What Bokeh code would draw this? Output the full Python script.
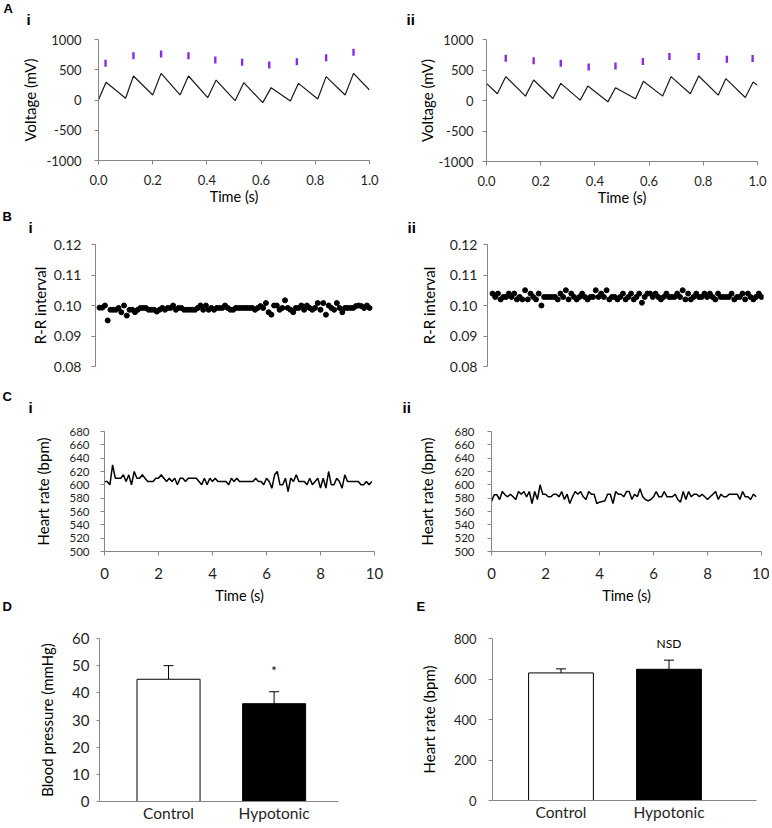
import numpy as np
from bokeh.plotting import figure
from bokeh.layouts import column, row
from bokeh.models import (Label, Title, Whisker, TeeHead, ColumnDataSource, FixedTicker,
                          NumeralTickFormatter, Range1d)
from bokeh.core.properties import value
from bokeh.embed import file_html
from bokeh.resources import INLINE

# ---------------- data ----------------
# A: voltage traces (vertices of the trace) and detected peaks
a1_t = [0.0, 0.028, 0.100, 0.129, 0.200, 0.231, 0.301, 0.332, 0.403, 0.434, 0.504,
        0.536, 0.606, 0.637, 0.708, 0.738, 0.809, 0.840, 0.910, 0.941, 1.0]
a1_v = [5, 292, 28, 397, 83, 440, 83, 397, 39, 330, -11, 286, -44, 204, -17, 275,
        17, 386, 83, 440, 165]
a1_peak_t = [0.026, 0.129, 0.231, 0.332, 0.431, 0.530, 0.630, 0.732, 0.840, 0.941]
a1_peak_v = [606, 733, 760, 733, 661, 622, 578, 634, 700, 788]

a2_t = [0.0, 0.040, 0.071, 0.144, 0.174, 0.245, 0.274, 0.346, 0.374, 0.448, 0.476,
        0.550, 0.579, 0.650, 0.681, 0.752, 0.783, 0.855, 0.883, 0.955, 0.984, 1.0]
a2_v = [281, 110, 391, 72, 336, 33, 281, 6, 237, -22, 209, 28, 314, 72, 391, 110,
        402, 88, 358, 50, 303, 248]
a2_peak_t = [0.071, 0.174, 0.274, 0.377, 0.476, 0.577, 0.675, 0.783, 0.887, 0.982]
a2_peak_v = [694, 650, 612, 551, 567, 639, 722, 722, 678, 689]

a_xticks = [0.0, 0.2, 0.4, 0.6, 0.8, 1.0]
a_yticks = [-1000, -500, 0, 500, 1000]

# B: R-R intervals
b1_rr = [0.0993, 0.0993, 0.1000, 0.0951, 0.0986, 0.0986, 0.0986, 0.0992, 0.0978, 0.1000,
         0.0967, 0.0986, 0.0986, 0.0978, 0.0986, 0.0992, 0.0992, 0.0992, 0.0986, 0.0986,
         0.0986, 0.0980, 0.0986, 0.0992, 0.0986, 0.0992, 0.0992, 0.1000, 0.0986, 0.0992,
         0.0992, 0.0986, 0.0986, 0.0986, 0.0986, 0.0986, 0.0992, 0.1000, 0.0986, 0.1000,
         0.0986, 0.0992, 0.0986, 0.0992, 0.0992, 0.0992, 0.1000, 0.0992, 0.0986, 0.0986,
         0.0992, 0.0992, 0.0992, 0.0992, 0.0992, 0.0992, 0.0992, 0.0986, 0.0992, 0.0998,
         0.0992, 0.1008, 0.0978, 0.0970, 0.1000, 0.1000, 0.0986, 0.0992, 0.1017, 0.0992,
         0.0986, 0.0978, 0.0992, 0.0992, 0.1000, 0.0986, 0.1000, 0.0992, 0.0986, 0.0992,
         0.1008, 0.0986, 0.1008, 0.0970, 0.1000, 0.0992, 0.0986, 0.1008, 0.0992, 0.0978,
         0.0992, 0.0992, 0.0992, 0.0992, 0.0998, 0.1000, 0.0998, 0.0992, 0.1000, 0.0992]
b2_rr = [0.1039, 0.1028, 0.1039, 0.1020, 0.1028, 0.1028, 0.1039, 0.1028, 0.1039, 0.1020,
         0.1028, 0.1020, 0.1050, 0.1020, 0.1039, 0.1028, 0.1020, 0.1039, 0.1000, 0.1028,
         0.1028, 0.1028, 0.1028, 0.1028, 0.1020, 0.1039, 0.1028, 0.1050, 0.1020, 0.1039,
         0.1028, 0.1020, 0.1028, 0.1039, 0.1028, 0.1020, 0.1028, 0.1028, 0.1050, 0.1028,
         0.1039, 0.1028, 0.1050, 0.1020, 0.1028, 0.1028, 0.1020, 0.1028, 0.1039, 0.1020,
         0.1028, 0.1039, 0.1020, 0.1028, 0.1039, 0.1009, 0.1028, 0.1039, 0.1039, 0.1028,
         0.1039, 0.1028, 0.1020, 0.1028, 0.1039, 0.1028, 0.1028, 0.1028, 0.1039, 0.1028,
         0.1050, 0.1020, 0.1039, 0.1020, 0.1028, 0.1039, 0.1028, 0.1028, 0.1039, 0.1028,
         0.1039, 0.1028, 0.1020, 0.1039, 0.1028, 0.1028, 0.1028, 0.1028, 0.1039, 0.1020,
         0.1028, 0.1028, 0.1039, 0.1020, 0.1039, 0.1028, 0.1020, 0.1028, 0.1039, 0.1028]
b_yticks = [0.08, 0.09, 0.10, 0.11, 0.12]

# C: heart rate, one sample every 0.1 s
c_dt = 0.1
c1_hr = [605, 605, 600, 630, 610, 610, 610, 615, 605, 615,
         600, 620, 610, 610, 615, 610, 605, 605, 605, 610,
         610, 615, 610, 605, 610, 605, 610, 600, 610, 610,
         605, 610, 610, 610, 610, 605, 600, 610, 600, 610,
         605, 610, 605, 605, 605, 605, 600, 610, 605, 610,
         605, 605, 605, 605, 605, 605, 610, 605, 605, 600,
         610, 605, 595, 615, 620, 600, 600, 610, 590, 610,
         605, 615, 605, 605, 605, 600, 610, 600, 605, 610,
         595, 610, 595, 620, 600, 600, 610, 605, 595, 615,
         605, 605, 605, 605, 605, 600, 600, 605, 600, 605]
c2_hr = [575, 585, 585, 578, 590, 585, 582, 586, 582, 578,
         590, 586, 590, 582, 590, 572, 590, 578, 600, 586,
         586, 582, 582, 586, 586, 582, 590, 578, 586, 572,
         582, 590, 586, 590, 582, 578, 590, 586, 586, 572,
         574, 575, 576, 586, 586, 572, 590, 586, 586, 582,
         590, 590, 578, 586, 582, 594, 582, 578, 576, 578,
         582, 590, 582, 582, 590, 582, 582, 582, 586, 578,
         574, 590, 578, 590, 582, 586, 586, 582, 586, 582,
         578, 582, 586, 590, 578, 586, 582, 582, 586, 586,
         586, 586, 578, 590, 582, 582, 578, 586, 582]
c_xticks = [0, 2, 4, 6, 8, 10]
c_yticks = [500, 520, 540, 560, 580, 600, 620, 640, 660, 680]

# D / E: group means with SEM
categories = ["Control", "Hypotonic"]
bp_mean = [45, 36]
bp_err = [5, 4.4]
hr_mean = [630, 648]
hr_err = [20, 45]
d_yticks = [0, 10, 20, 30, 40, 50, 60]
e_yticks = [0, 200, 400, 600, 800]
bar_fill = ["white", "black"]

# ---------------- style ----------------
FONT = "Lato"
TAG_FONT = "Liberation Sans"
GRAY = "#868686"
INK = "#1f1f1f"
PURPLE = "#8b2be2"
PAGE_W = 769


def base_fig(fw, fh, bl, br, bt, bb, xr, yr):
    p = figure(frame_width=fw, frame_height=fh, min_border_left=bl, min_border_right=br,
               min_border_top=bt, min_border_bottom=bb,
               x_range=Range1d(*xr), y_range=Range1d(*yr),
               output_backend="svg", toolbar_location=None, tools="")
    p.outline_line_color = None
    p.grid.visible = False
    p.background_fill_color = "white"
    p.border_fill_color = "white"
    for ax in p.axis:
        ax.axis_line_color = GRAY
        ax.major_tick_line_color = GRAY
        ax.minor_tick_line_color = None
        ax.major_tick_in = 0
        ax.major_tick_out = 4
        ax.major_label_text_font = FONT
        ax.major_label_text_color = INK
        ax.axis_label_text_font = FONT
        ax.axis_label_text_font_style = "normal"
        ax.axis_label_text_color = "#000000"
    return p


def style_axis(ax, ticks, label, tick_size, lab_size, standoff, lab_standoff, fmt=None):
    ax.ticker = FixedTicker(ticks=ticks)
    ax.axis_label = label
    ax.major_label_text_font_size = tick_size
    ax.axis_label_text_font_size = lab_size
    ax.major_label_standoff = standoff
    ax.axis_label_standoff = lab_standoff
    if fmt:
        ax.formatter = NumeralTickFormatter(format=fmt)


def tag_strip(top, bottom, tags):
    """A full-width strip that carries the panel tags (page-pixel positions)."""
    h = bottom - top
    p = figure(frame_width=PAGE_W, frame_height=h, x_range=Range1d(0, PAGE_W),
               y_range=Range1d(h, 0), min_border=0, x_axis_type=None, y_axis_type=None,
               output_backend="svg", toolbar_location=None, tools="")
    p.outline_line_color = None
    p.background_fill_color = "white"
    p.border_fill_color = "white"
    for text, px, py, size in tags:
        p.add_layout(Label(x=px - 1, y=py - top, text=text, text_font=TAG_FONT,
                           text_font_style="bold", text_font_size=size,
                           text_align="left", text_baseline="top", text_color="black"))
    return p


def below_tag(p, text, offset, standoff):
    p.add_layout(Title(text=text, align="left", vertical_align="top", offset=offset,
                       standoff=standoff, text_font=TAG_FONT, text_font_style="bold",
                       text_font_size="13px", text_color="black"), "below")


# ---------------- tag strips ----------------
strip_a = tag_strip(1, 28, [("A", 4, 1, "13px"), ("i", 27, 11.4, "15px"),
                            ("ii", 407, 11.4, "15px")])
strip_b = tag_strip(209, 237, [("B", 3, 209.2, "13px"), ("i", 29, 219.4, "15px"),
                               ("ii", 408, 219.4, "15px")])
strip_c = tag_strip(385, 418, [("C", 3, 389.2, "13px"), ("i", 29, 399.4, "15px"),
                               ("ii", 403, 399.4, "15px")])

# ---------------- A ----------------
pa1 = base_fig(271, 121, 98, 18, 12, 48, (0, 1), (-1000, 1000))
pa1.line(a1_t, a1_v, line_color="#1a1a1a", line_width=1.2)
pa1.scatter(a1_peak_t, a1_peak_v, marker="dash", size=7, angle=np.pi / 2,
            line_color=PURPLE, line_width=2.4)
style_axis(pa1.yaxis[0], a_yticks, "Voltage (mV)", "13px", "15px", 13, 5, "0")
style_axis(pa1.xaxis[0], a_xticks, "Time (s)", "13px", "14.5px", 10, 0, "0.0")

pa2 = base_fig(271, 122, 99, 12, 12, 47, (0, 1), (-1000, 1000))
pa2.line(a2_t, a2_v, line_color="#1a1a1a", line_width=1.2)
pa2.scatter(a2_peak_t, a2_peak_v, marker="dash", size=7, angle=np.pi / 2,
            line_color=PURPLE, line_width=2.4)
style_axis(pa2.yaxis[0], a_yticks, "Voltage (mV)", "13px", "15px", 9, 0, "0")
style_axis(pa2.xaxis[0], a_xticks, "Time (s)", "13px", "14.5px", 10, 0, "0.0")

# ---------------- B ----------------
pb1 = base_fig(279, 122, 95, 13, 8, 18, (-1.47, 100.8), (0.08, 0.12))
pb1.xaxis.visible = False
pb1.scatter(list(range(len(b1_rr))), b1_rr, size=5, color="black")
style_axis(pb1.yaxis[0], b_yticks, "R-R interval", "14px", "15px", 10, 2, "0.00")

pb2 = base_fig(276, 122, 100, 6, 8, 18, (-1.84, 99.74), (0.08, 0.12))
pb2.xaxis.visible = False
pb2.scatter(list(range(len(b2_rr))), b2_rr, size=5, color="black")
style_axis(pb2.yaxis[0], b_yticks, "R-R interval", "14px", "15px", 6, 9, "0.00")

# ---------------- C ----------------
pc1 = base_fig(270, 120, 104, 13, 14, 65, (0, 10), (500, 680))
pc1.line([i * c_dt for i in range(len(c1_hr))], c1_hr, line_color="black", line_width=1.5)
style_axis(pc1.yaxis[0], c_yticks, "Heart rate (bpm)", "11.5px", "15px", 11, 14)
style_axis(pc1.xaxis[0], c_xticks, "Time (s)", "15px", "14.5px", 12, 5)
below_tag(pc1, "D", 3 - 105, -16)

pc2 = base_fig(270, 120, 104, 8, 14, 65, (0, 10), (500, 680))
pc2.line([i * c_dt for i in range(len(c2_hr))], c2_hr, line_color="black", line_width=1.5)
style_axis(pc2.yaxis[0], c_yticks, "Heart rate (bpm)", "11.5px", "15px", 13, 15)
style_axis(pc2.xaxis[0], c_xticks, "Time (s)", "15px", "14.5px", 12, 5)
below_tag(pc2, "E", 417 - 492, -15)

# ---------------- D ----------------
xpos = [i + 1 for i in range(len(categories))]
labels = {x: c for x, c in zip(xpos, categories)}

pd_ = base_fig(239, 163, 99, 49, 20, 20, (0.346, 2.61), (0, 60))
src_d = ColumnDataSource(dict(x=xpos, top=bp_mean, up=[m + e for m, e in zip(bp_mean, bp_err)],
                              fill=bar_fill))
pd_.vbar(x="x", top="top", bottom=0, width=0.597, fill_color="fill", line_color="black",
         line_width=1, source=src_d)
pd_.add_layout(Whisker(source=src_d, base="x", lower="top", upper="up", lower_head=None,
                       upper_head=TeeHead(size=10, line_color="black", line_width=1),
                       line_color="black", line_width=1))
pd_.text(x=[xpos[1]], y=[48], text=["*"], text_align="center", text_baseline="middle",
         text_font=value(FONT), text_font_size="13px", text_color="black")
style_axis(pd_.yaxis[0], d_yticks, "Blood pressure (mmHg)", "15px", "15px", 7, 13)
pd_.yaxis.major_tick_out = 3
style_axis(pd_.xaxis[0], xpos, "", "15.5px", "14px", 2, 0)
pd_.xaxis.major_tick_out = 0
pd_.xaxis.major_label_overrides = labels

# ---------------- E ----------------
pe = base_fig(264, 162, 105, 13, 22, 19, (0.366, 2.81), (0, 800))
src_e = ColumnDataSource(dict(x=xpos, top=hr_mean, up=[m + e for m, e in zip(hr_mean, hr_err)],
                              fill=bar_fill))
pe.vbar(x="x", top="top", bottom=0, width=0.60, fill_color="fill", line_color="black",
        line_width=1, source=src_e)
pe.add_layout(Whisker(source=src_e, base="x", lower="top", upper="up", lower_head=None,
                      upper_head=TeeHead(size=10, line_color="black", line_width=1),
                      line_color="black", line_width=1))
pe.text(x=[xpos[1]], y=[775], text=["NSD"], text_align="center", text_baseline="middle",
        text_font=value(FONT), text_font_size="12px", text_color="black")
style_axis(pe.yaxis[0], e_yticks, "Heart rate (bpm)", "13px", "15px", 12, 13)
style_axis(pe.xaxis[0], xpos, "", "15.5px", "14px", 2, 0)
pe.xaxis.major_tick_out = 0
pe.xaxis.major_label_overrides = labels

layout = column(strip_a, row(pa1, pa2), strip_b, row(pb1, pb2), strip_c, row(pc1, pc2),
                row(pd_, pe))
open("out.html", "w").write(file_html(layout, INLINE))
